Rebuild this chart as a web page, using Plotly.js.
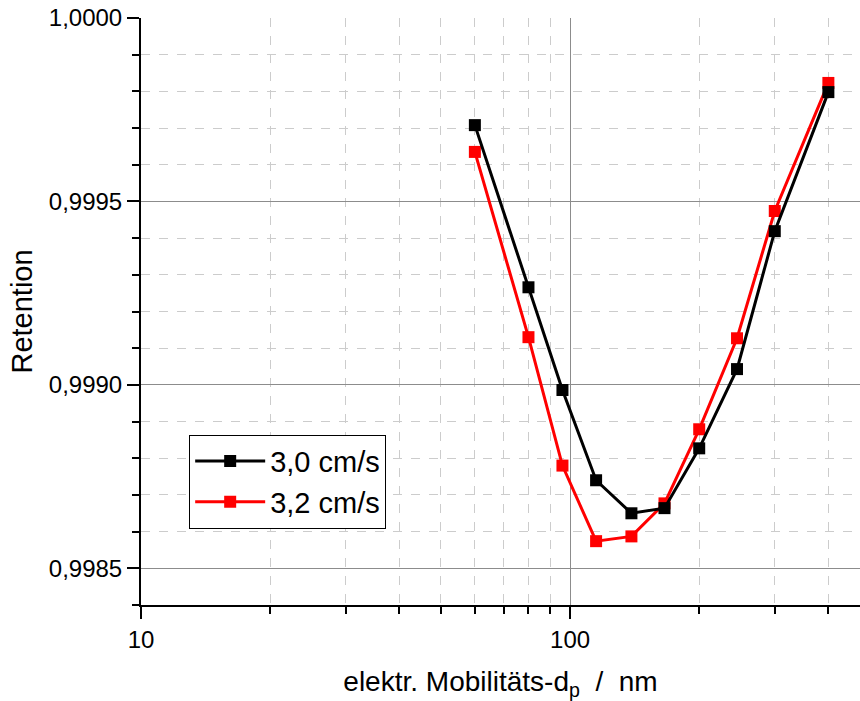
<!DOCTYPE html>
<html><head><meta charset="utf-8">
<script src="https://cdn.plot.ly/plotly-3.0.1.min.js"></script>
<style>html,body{margin:0;padding:0;background:#fff}#plot{width:860px;height:701px}</style>
</head><body><div id="plot"></div>
<script>
const diameters = [60, 80, 96, 115, 139, 166, 200, 245, 300, 400];
const retention30 = [0.999708, 0.999266, 0.998986, 0.99874, 0.99865, 0.998664, 0.998827, 0.999043, 0.999419, 0.999798];
const retention32 = [0.999635, 0.99913, 0.99878, 0.998574, 0.998587, 0.998677, 0.998879, 0.999127, 0.999474, 0.999823];
const seriesNames = ['3,0 cm/s', '3,2 cm/s'];
const xMajorTicks = [10, 100];
const xMinorTicks = [20, 30, 40, 50, 60, 70, 80, 90, 200, 300, 400];

const traces = [
  {x: diameters, y: retention32, name: seriesNames[1], mode: 'lines+markers',
   line: {color: '#ff0000', width: 3}, marker: {symbol: 'square', size: 12, color: '#ff0000'}},
  {x: diameters, y: retention30, name: seriesNames[0], mode: 'lines+markers',
   line: {color: '#000000', width: 3}, marker: {symbol: 'square', size: 12, color: '#000000'}}
];
const layout = {
  width: 860, height: 701,
  margin: {l: 141, r: 0, t: 18, b: 96},
  paper_bgcolor: '#fff', plot_bgcolor: '#fff',
  separators: ', ',
  font: {family: 'Liberation Sans, Arial, sans-serif', color: '#000'},
  showlegend: true,
  legend: {x: 0.067, y: 0.290, xanchor: 'left', yanchor: 'top', bordercolor: '#000', borderwidth: 1,
           bgcolor: '#fff', font: {size: 29}, traceorder: 'reversed', tracegroupgap: 0, itemwidth: 70},
  xaxis: {
    type: 'log', range: [1, Math.log10(474)],
    tickmode: 'array', tickvals: xMajorTicks, ticktext: xMajorTicks.map(String),
    ticks: 'outside', ticklen: 12, tickwidth: 2, tickcolor: '#000',
    showline: true, linecolor: '#000', linewidth: 2,
    showgrid: true, gridcolor: '#8c8c8c', gridwidth: 1,
    zeroline: false, tickfont: {size: 24},
    minor: {tickmode: 'array', tickvals: xMinorTicks, ticks: 'outside', ticklen: 7, tickwidth: 2, tickcolor: '#000',
            showgrid: true, gridcolor: '#cccccc', gridwidth: 1, griddash: 'dash'},
    title: {text: 'elektr. Mobilitäts-d<sub>p</sub>  /  nm', font: {size: 28}, standoff: 20}
  },
  yaxis: {
    range: [0.9984, 1.0000],
    tick0: 0.9985, dtick: 0.0005, tickformat: '.4f',
    ticks: 'outside', ticklen: 12, tickwidth: 2, tickcolor: '#000',
    showline: true, linecolor: '#000', linewidth: 2,
    showgrid: true, gridcolor: '#8c8c8c', gridwidth: 1,
    zeroline: false, tickfont: {size: 24},
    minor: {dtick: 0.0001, ticks: 'outside', ticklen: 7, tickwidth: 2, tickcolor: '#000',
            showgrid: true, gridcolor: '#cccccc', gridwidth: 1, griddash: 'dash'},
    title: {text: 'Retention', font: {size: 29}, standoff: 8}
  }
};
Plotly.newPlot('plot', traces, layout, {displayModeBar: false, staticPlot: true});
</script></body></html>
